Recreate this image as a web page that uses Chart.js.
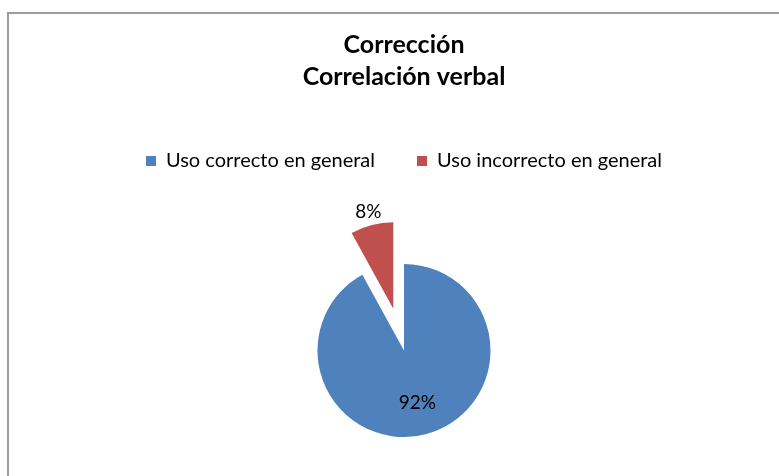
<!DOCTYPE html>
<html>
<head>
<meta charset="utf-8">
<script src="https://cdn.jsdelivr.net/npm/chart.js@4.4.1/dist/chart.umd.min.js"></script>
<style>
  body { margin: 0; background: #fff; overflow: hidden; }
  #frame {
    position: absolute; left: 7px; top: 12px; width: 800px; height: 500px;
    border-left: 2px solid #9c9c9c; border-top: 2px solid #9c9c9c;
  }
  #wrap { position: absolute; left: 0; top: 0; width: 779px; height: 476px; overflow: hidden; }
</style>
</head>
<body>
<div id="frame"></div>
<div id="wrap"><canvas id="pieChart" width="779" height="520"></canvas></div>
<script>
// data
const chartTitle = ['Corrección', 'Correlación verbal'];
const categories = ['Uso correcto en general', 'Uso incorrecto en general'];
const values = [92, 8];
const colors = ['#4F81BD', '#C0504D'];

// the small slice is pulled out of the pie
const explodeIndex = 1;
const explodeDistance = 43;

const explodePlugin = {
  id: 'explode',
  afterDatasetsUpdate(chart) {
    const meta = chart.getDatasetMeta(0);
    const arc = meta.data[explodeIndex];
    if (!arc) return;
    const mid = (arc.startAngle + arc.endAngle) / 2;
    arc.x += Math.cos(mid) * explodeDistance;
    arc.y += Math.sin(mid) * explodeDistance;
  }
};

const pctLabels = {
  id: 'pctLabels',
  afterDatasetsDraw(chart) {
    const ctx = chart.ctx;
    const meta = chart.getDatasetMeta(0);
    const total = values.reduce((a, b) => a + b, 0);
    ctx.save();
    ctx.font = '19px Lato';
    ctx.fillStyle = '#000';
    ctx.textAlign = 'center';
    ctx.textBaseline = 'middle';
    meta.data.forEach((arc, i) => {
      const mid = (arc.startAngle + arc.endAngle) / 2;
      const f = i === explodeIndex ? 1.16 : 0.62;
      const x = arc.x + Math.cos(mid) * arc.outerRadius * f;
      const y = arc.y + Math.sin(mid) * arc.outerRadius * f;
      ctx.fillText(Math.round(values[i] / total * 100) + '%', x, y);
    });
    ctx.restore();
  }
};

new Chart(document.getElementById('pieChart'), {
  type: 'pie',
  data: {
    labels: categories,
    datasets: [{
      data: values,
      backgroundColor: colors,
      borderWidth: 0,
      radius: 86.5
    }]
  },
  options: {
    responsive: false,
    animation: false,
    layout: {
      padding: { left: 29, right: 0, top: 0, bottom: 0 }
    },
    plugins: {
      title: {
        display: true,
        text: chartTitle,
        color: '#000',
        font: { family: 'Lato', size: 25, weight: 'bold', lineHeight: 1.28 },
        padding: { top: 29, bottom: 16 }
      },
      legend: {
        position: 'top',
        labels: {
          color: '#000',
          font: { family: 'Lato', size: 20 },
          boxWidth: 10,
          boxHeight: 10,
          padding: 42
        }
      },
      tooltip: { enabled: false }
    }
  },
  plugins: [explodePlugin, pctLabels]
});
</script>
</body>
</html>
